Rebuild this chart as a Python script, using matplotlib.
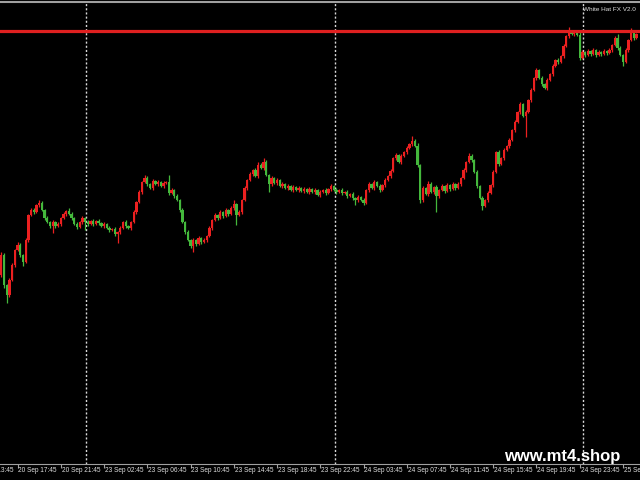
import numpy as np
import matplotlib
matplotlib.use('Agg')
import matplotlib.pyplot as plt
import matplotlib.transforms as mtransforms

# M15 closes (price points), bar by bar
first_open = 205
closes = [225, 195, 185, 200, 215, 230, 235, 225, 218, 240,
          265, 270, 268, 275, 277, 270, 262, 258, 254, 258,
          254, 256, 262, 266, 269, 266, 262, 256, 253, 258,
          262, 258, 256, 259, 256, 259, 257, 254, 256, 252,
          250, 251, 246, 248, 252, 258, 254, 252, 258, 268,
          278, 288, 298, 302, 296, 292, 299, 296, 298, 294,
          297, 298, 287, 290, 284, 280, 270, 258, 248, 240,
          234, 240, 236, 242, 238, 240, 244, 252, 260, 265,
          262, 268, 264, 270, 266, 272, 276, 265, 268, 280,
          292, 300, 306, 310, 304, 315, 312, 318, 305, 296,
          302, 297, 300, 294, 296, 292, 294, 290, 293, 290,
          292, 289, 291, 288, 291, 288, 290, 285, 288, 290,
          287, 291, 294, 290, 288, 290, 287, 288, 284, 286,
          282, 280, 283, 280, 277, 290, 296, 292, 298, 294,
          290, 295, 300, 304, 309, 322, 325, 318, 324, 328,
          332, 336, 339, 334, 315, 280, 292, 286, 296, 288,
          293, 284, 290, 294, 289, 295, 291, 296, 292, 296,
          302, 310, 318, 324, 320, 308, 294, 282, 274, 280,
          287, 295, 308, 328, 316, 322, 330, 334, 340, 350,
          358, 368, 376, 364, 368, 380, 390, 402, 410, 402,
          396, 392, 400, 406, 414, 420, 418, 424, 434, 444,
          448, 446, 447, 445, 422, 428, 425, 429, 426, 430,
          425, 428, 426, 429, 427, 430, 435, 442, 432, 425,
          418, 430, 440, 448, 442, 446]

up_wick = [3, 2, 1, 2, 2, 1, 3, 2, 1, 2, 1, 2, 2, 1, 3, 2, 1, 2, 1, 2,
           1, 2, 1, 2, 1, 3, 2, 1, 2, 1, 2, 1, 2, 1, 2, 1, 2, 1, 2, 1,
           2, 1, 2, 1, 2, 1, 2, 1, 1, 2, 1, 2, 1, 3, 2, 1, 2, 1, 2, 1,
           2, 1, 7, 2, 1, 2, 1, 2, 1, 2, 1, 2, 1, 2, 1, 2, 1, 2, 1, 2,
           1, 2, 1, 2, 1, 2, 4, 1, 2, 1, 2, 1, 2, 1, 2, 3, 2, 4, 2, 1,
           2, 1, 2, 1, 2, 1, 2, 1, 2, 1, 2, 1, 2, 1, 2, 1, 2, 1, 2, 1,
           2, 1, 2, 1, 2, 1, 2, 1, 2, 1, 2, 1, 2, 1, 2, 1, 2, 1, 2, 1,
           2, 1, 2, 1, 2, 1, 2, 1, 2, 1, 2, 1, 5, 2, 3, 1, 2, 1, 3, 2,
           1, 2, 1, 2, 1, 2, 1, 2, 1, 2, 1, 2, 1, 3, 2, 1, 2, 1, 2, 1,
           2, 1, 2, 1, 2, 1, 2, 1, 2, 1, 2, 1, 2, 1, 2, 1, 2, 1, 2, 1,
           2, 1, 2, 1, 2, 1, 2, 1, 2, 1, 5, 2, 1, 2, 3, 2, 1, 2, 1, 2,
           1, 2, 1, 2, 1, 2, 1, 2, 4, 2, 1, 2, 1, 4, 2, 1]

lo_wick = [2, 3, 8, 2, 1, 2, 1, 2, 4, 1, 2, 1, 2, 1, 2, 1, 2, 1, 2, 7,
           2, 1, 2, 1, 2, 1, 2, 1, 2, 1, 2, 8, 2, 1, 2, 1, 2, 1, 2, 1,
           2, 1, 2, 9, 2, 1, 2, 1, 2, 1, 2, 1, 2, 1, 2, 1, 2, 1, 2, 1,
           2, 1, 2, 1, 2, 1, 2, 1, 2, 1, 2, 6, 2, 1, 2, 1, 2, 1, 2, 1,
           2, 1, 2, 1, 2, 1, 2, 10, 1, 2, 1, 2, 1, 2, 1, 2, 1, 2, 1, 8,
           2, 1, 2, 1, 2, 1, 2, 1, 2, 1, 2, 1, 2, 1, 2, 1, 2, 1, 2, 1,
           2, 1, 2, 1, 2, 1, 2, 1, 2, 1, 2, 5, 2, 1, 2, 1, 2, 1, 2, 1,
           2, 1, 2, 1, 2, 1, 2, 1, 2, 1, 2, 1, 2, 1, 2, 3, 2, 1, 2, 1,
           2, 16, 2, 1, 2, 1, 2, 1, 2, 1, 2, 1, 2, 1, 2, 1, 2, 1, 4, 1,
           2, 1, 2, 1, 2, 1, 2, 1, 2, 1, 2, 1, 2, 1, 21, 1, 2, 1, 2, 1,
           2, 1, 2, 1, 2, 1, 2, 1, 2, 1, 2, 1, 2, 1, 2, 1, 2, 1, 2, 1,
           2, 1, 2, 1, 2, 1, 2, 1, 2, 1, 4, 1, 2, 1, 2, 1]

level = 449                       # red horizontal line
day_bars = [31, 123, 215]          # period separators
tick_bars = [-10, 6, 22, 38, 54, 70, 86, 102, 118, 134, 150, 166, 182, 198, 214, 230]
tick_labels = ['20 Sep 13:45', '20 Sep 17:45', '20 Sep 21:45', '23 Sep 02:45',
               '23 Sep 06:45', '23 Sep 10:45', '23 Sep 14:45', '23 Sep 18:45',
               '23 Sep 22:45', '24 Sep 03:45', '24 Sep 07:45', '24 Sep 11:45',
               '24 Sep 15:45', '24 Sep 19:45', '24 Sep 23:45', '25 Sep 04:45']

c = np.array(closes, dtype=float)
o = np.concatenate([[first_open], c[:-1]])
hi = np.maximum(o, c) + np.array(up_wick)
lo = np.minimum(o, c) - np.array(lo_wick)
x = np.arange(len(c))

bull_col = '#ec2020'
bear_col = '#44b83c'
cols = np.where(c > o, bull_col, bear_col)

fig = plt.figure(figsize=(6.4, 4.8), dpi=100, facecolor='black')
ax = fig.add_axes([0, 16 / 480, 1, 462 / 480], facecolor='black')

ax.vlines(x, lo, hi, colors=cols, linewidth=0.9, zorder=2)
body = np.maximum(np.abs(c - o), 1.0)
ax.bar(x, body, bottom=np.minimum(o, c), width=0.85, color=cols, linewidth=0, zorder=3)

for d in day_bars:
    ax.axvline(d + 0.3, color='#d8d8d8', linestyle=(0, (1.5, 1.5)), linewidth=1.0, zorder=1)

ax.axhline(level, color='#e02020', linewidth=2.3, zorder=4)

ax.set_xlim(-0.5, len(c) + 0.3)
ax.set_ylim(16, 478)

for s in ['left', 'right']:
    ax.spines[s].set_visible(False)
ax.spines['bottom'].set_color('#a0a0a0')
ax.spines['top'].set_color('#a0a0a0')
ax.spines['top'].set_linewidth(1.5)
ax.set_yticks([])
ax.set_xticks(tick_bars[1:])
ax.set_xticklabels([])
ax.tick_params(axis='x', colors='#a0a0a0', length=3, width=0.8, direction='out')

trans = mtransforms.blended_transform_factory(ax.transData, ax.transAxes)
for tb, tl in zip(tick_bars, tick_labels):
    ax.text(tb + 0.3, -0.0145, tl, transform=trans, ha='left', va='center',
            color='#e0e0e0', fontsize=4.7, family='Liberation Sans', clip_on=False)

fig.text(583 / 640, 1 - 9.5 / 480, 'White Hat FX V2.0', color='#e0e0e0', fontsize=4.6,
         family='Liberation Sans', ha='left', va='center')
fig.text(504 / 640, 1 - 456 / 480, 'www.mt4.shop', color='white', fontsize=12,
         fontweight='bold', family='Liberation Sans', ha='left', va='center')

fig.savefig('out.png', dpi=100, facecolor='black')
